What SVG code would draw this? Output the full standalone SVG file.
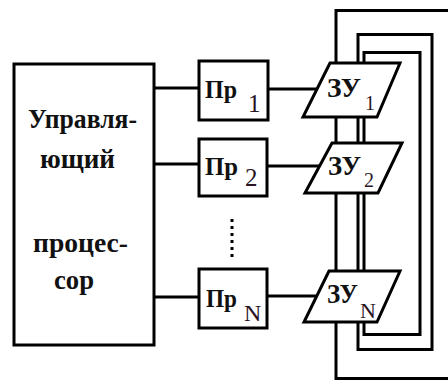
<svg xmlns="http://www.w3.org/2000/svg" width="448" height="380" viewBox="0 0 448 380">
<style>
.ln{fill:none;stroke:#000;stroke-width:3}
.bx{fill:#fff;stroke:#000;stroke-width:3}
.t{font-family:"Liberation Serif","DejaVu Serif",serif;font-weight:bold;fill:#111}
.s{font-family:"Liberation Serif","Times New Roman",serif;font-weight:normal;fill:#2a1424}
</style>
<rect width="448" height="380" fill="#fff"/>
<g id="connectors">
<path class="ln" d="M470 10.5 H336 V378.5 H470"/>
<rect class="ln" x="358" y="34.5" width="74" height="315"/>
<rect class="ln" x="364" y="52.5" width="56" height="282"/>
<line class="ln" x1="154" y1="88" x2="199" y2="88"/>
<line class="ln" x1="154" y1="164" x2="199" y2="164"/>
<line class="ln" x1="154" y1="297" x2="199" y2="297"/>
<line class="ln" x1="268" y1="89" x2="318" y2="89"/>
<line class="ln" x1="267" y1="166" x2="320" y2="166"/>
<line class="ln" x1="267" y1="296" x2="318" y2="296"/>
</g>
<g id="cpu">
<rect class="bx" x="14" y="64" width="140" height="281"/>
<text class="t" x="28" y="128" font-size="27" textLength="109" lengthAdjust="spacingAndGlyphs">Управля-</text>
<text class="t" x="40" y="168" font-size="27" textLength="75" lengthAdjust="spacingAndGlyphs">ющий</text>
<text class="t" x="33" y="252" font-size="27" textLength="95" lengthAdjust="spacingAndGlyphs">процес-</text>
<text class="t" x="54" y="289" font-size="27" textLength="40" lengthAdjust="spacingAndGlyphs">сор</text>
</g>
<g id="pr1">
<rect class="bx" x="199" y="61" width="69" height="59"/>
<text class="t" x="205" y="98" font-size="25" textLength="32" lengthAdjust="spacingAndGlyphs">Пр</text>
<text class="s" x="248" y="112" font-size="25">1</text>
</g>
<g id="pr2">
<rect class="bx" x="199" y="139" width="68" height="57"/>
<text class="t" x="205" y="175" font-size="25" textLength="33" lengthAdjust="spacingAndGlyphs">Пр</text>
<text class="s" x="245" y="186" font-size="25">2</text>
</g>
<g id="dots">
<g fill="#000">
<rect x="230.5" y="219" width="3" height="3"/>
<rect x="230.5" y="226" width="3" height="3"/>
<rect x="230.5" y="233" width="3" height="3"/>
<rect x="230.5" y="240" width="3" height="3"/>
<rect x="230.5" y="247" width="3" height="3"/>
<rect x="230.5" y="254" width="3" height="3"/>
</g>
</g>
<g id="prN">
<rect class="bx" x="199" y="269" width="68" height="59"/>
<text class="t" x="206" y="307" font-size="25" textLength="31" lengthAdjust="spacingAndGlyphs">Пр</text>
<text class="s" x="244" y="321" font-size="24">N</text>
</g>
<g id="zu1">
<polygon class="bx" points="330,63 400,63 377,117 303,117"/>
<text class="t" x="327" y="97" font-size="27" textLength="34" lengthAdjust="spacingAndGlyphs">ЗУ</text>
<text class="s" x="365" y="110" font-size="20">1</text>
</g>
<g id="zu2">
<polygon class="bx" points="332,143 402,143 378,193 305,193"/>
<text class="t" x="328" y="175" font-size="27" textLength="33" lengthAdjust="spacingAndGlyphs">ЗУ</text>
<text class="s" x="364" y="187" font-size="20">2</text>
</g>
<g id="zuN">
<polygon class="bx" points="329,271 400,271 377,322 304,322"/>
<text class="t" x="327" y="303" font-size="27" textLength="31" lengthAdjust="spacingAndGlyphs">ЗУ</text>
<text class="s" x="360" y="318" font-size="22">N</text>
</g>
</svg>
